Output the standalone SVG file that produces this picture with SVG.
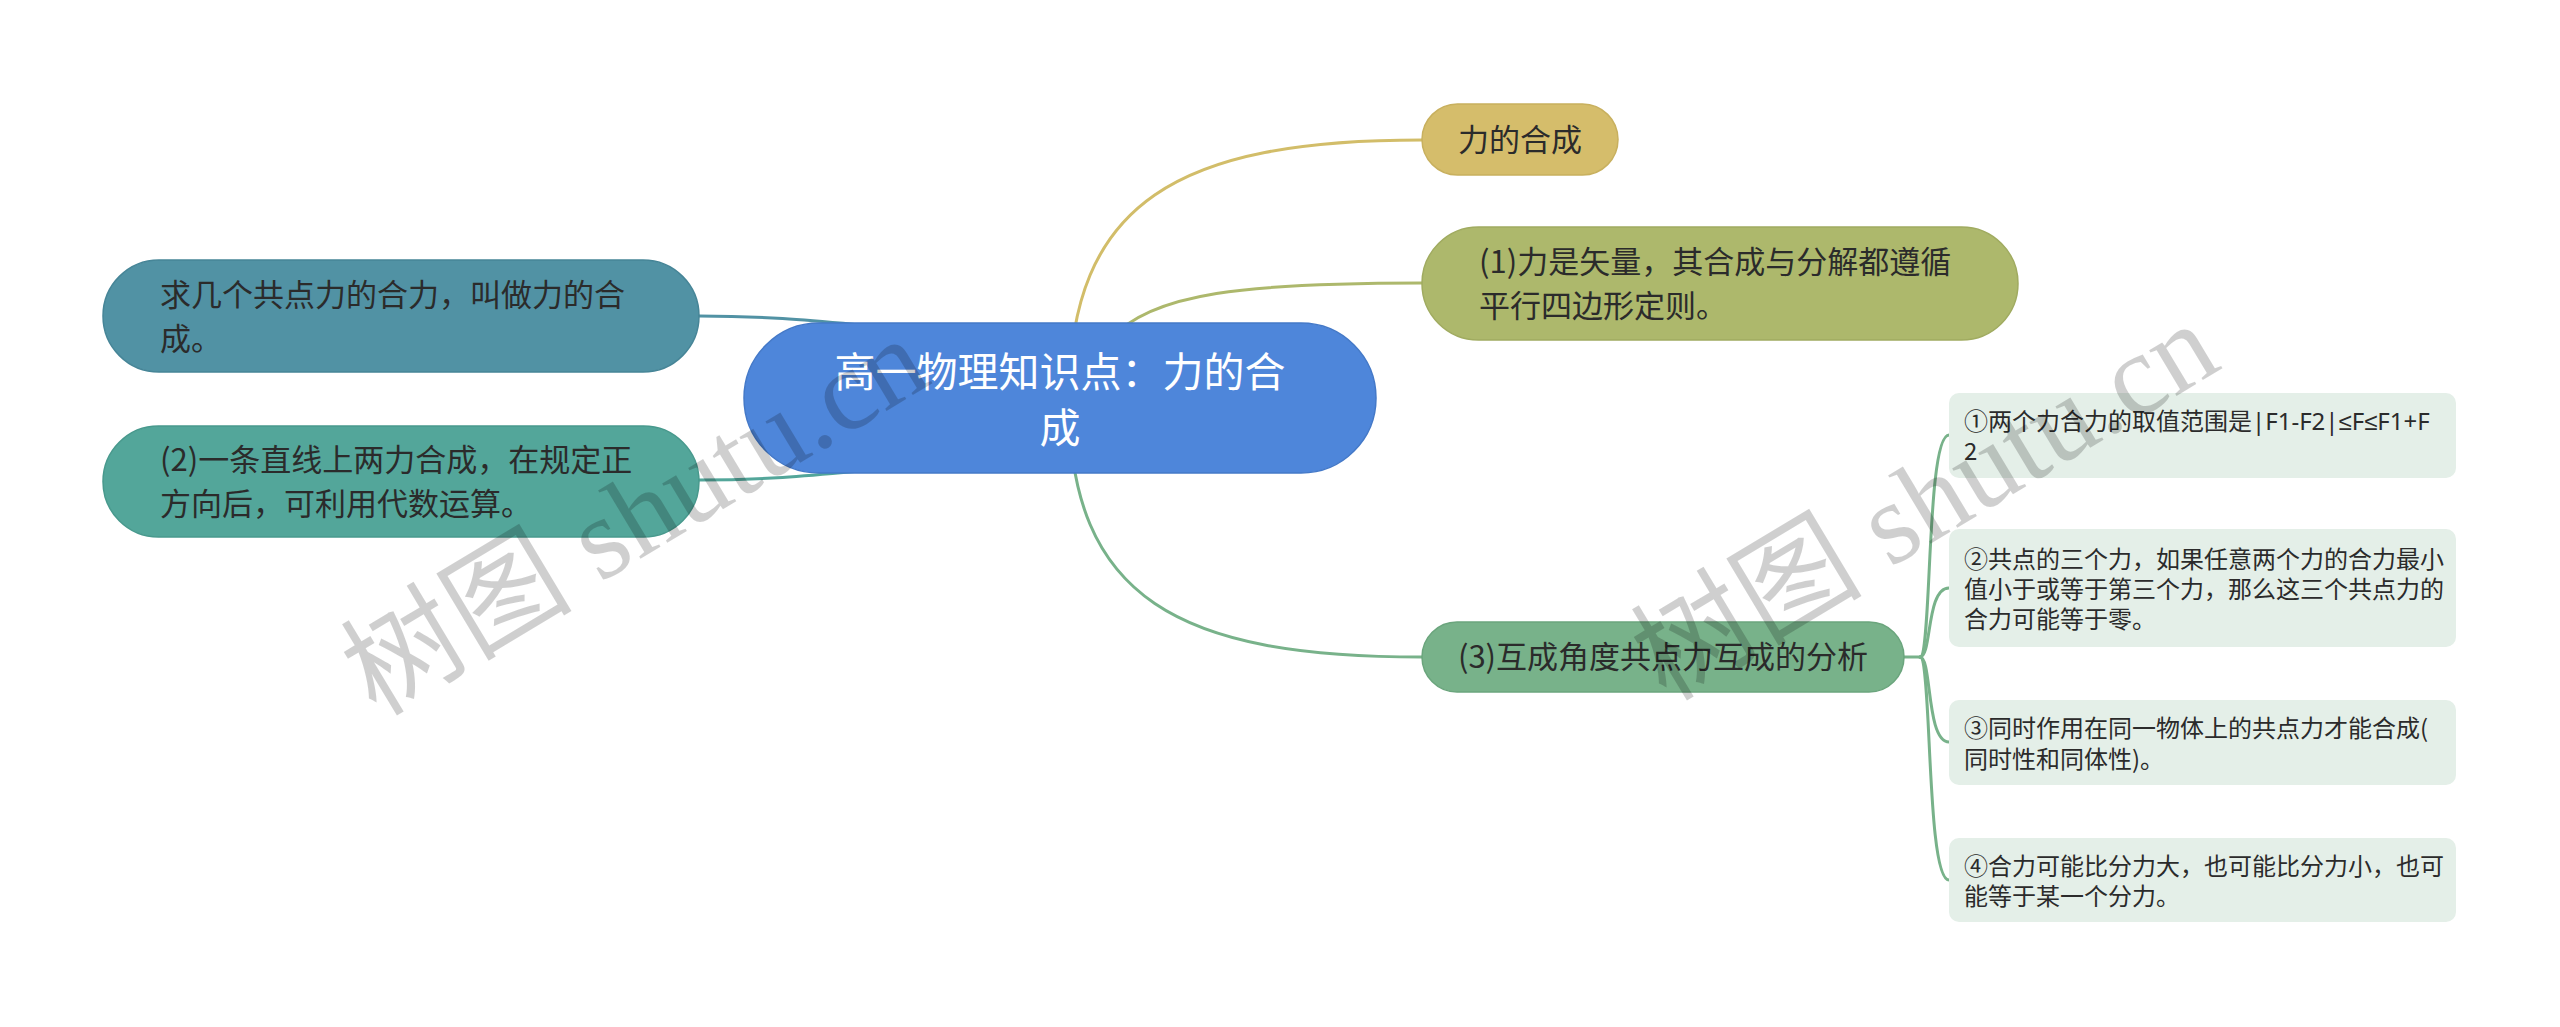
<svg xmlns="http://www.w3.org/2000/svg" width="2560" height="1027" viewBox="0 0 2560 1027">
<style>
.t{font-family:"Noto Sans CJK SC","Noto Sans",sans-serif;fill:#2b2b2b}
.c{fill:none;stroke-width:3;stroke-linecap:round}
.child{fill:#e4efe8}
.wm{font-family:"Liberation Serif","Noto Sans CJK SC",serif;font-size:116px;fill:#000;fill-opacity:0.19}
</style>
<rect width="2560" height="1027" fill="#ffffff"/>
<g id="connectors">
<path class="c" stroke="#d2bd69" d="M1069,400 C1069,200 1180,140 1422,140"/>
<path class="c" stroke="#adb86c" d="M1110,340 C1150,292 1250,283 1422,283"/>
<path class="c" stroke="#78b28a" d="M1069,400 C1069,600 1180,657 1422,657"/>
<path class="c" stroke="#5192a4" d="M699,316 C800,316 850,326 950,332"/>
<path class="c" stroke="#53a69a" d="M699,480 C800,480 850,470 950,464"/>
<path class="c" stroke="#78b28a" d="M1904,657 H1920"/>
<path class="c" stroke="#78b28a" d="M1920,657 C1932,657 1926,435 1949,435"/>
<path class="c" stroke="#78b28a" d="M1920,657 C1932,657 1926,588 1949,588"/>
<path class="c" stroke="#78b28a" d="M1920,657 C1932,657 1926,742 1949,742"/>
<path class="c" stroke="#78b28a" d="M1920,657 C1932,657 1926,880 1949,880"/>
</g>
<g id="root">
<rect x="744" y="323" width="632" height="150" rx="75" fill="#4e86da" stroke="#4479c8" stroke-width="1.5"/>
<text class="t" font-size="41" text-anchor="middle" style="fill:#ffffff"><tspan x="1060" y="387">高一物理知识点：力的合</tspan><tspan x="1060" y="443">成</tspan></text>
</g>
<g id="n-heli">
<rect x="1422" y="104" width="196" height="71" rx="35.5" fill="#d5bd6b" stroke="#c8b05e" stroke-width="1.5"/>
<text class="t" font-size="31" text-anchor="middle" x="1520" y="151">力的合成</text>
</g>
<g id="n-1">
<rect x="1422" y="227" width="596" height="113" rx="56.5" fill="#adb86c" stroke="#a0ab60" stroke-width="1.5"/>
<text class="t" font-size="31"><tspan x="1479" y="273">(1)力是矢量，其合成与分解都遵循</tspan><tspan x="1479" y="317">平行四边形定则。</tspan></text>
</g>
<g id="n-3">
<rect x="1422" y="622" width="482" height="70" rx="35" fill="#78b28a" stroke="#6ba57d" stroke-width="1.5"/>
<text class="t" font-size="31" text-anchor="middle" x="1663" y="668">(3)互成角度共点力互成的分析</text>
</g>
<g id="n-left1">
<rect x="103" y="260" width="596" height="112" rx="56" fill="#5192a4" stroke="#468597" stroke-width="1.5"/>
<text class="t" font-size="31"><tspan x="160" y="306">求几个共点力的合力，叫做力的合</tspan><tspan x="160" y="350">成。</tspan></text>
</g>
<g id="n-left2">
<rect x="103" y="426" width="596" height="111" rx="55.5" fill="#53a69a" stroke="#48998d" stroke-width="1.5"/>
<text class="t" font-size="31"><tspan x="160" y="471">(2)一条直线上两力合成，在规定正</tspan><tspan x="160" y="515">方向后，可利用代数运算。</tspan></text>
</g>
<g id="c1">
<rect class="child" x="1949" y="393" width="507" height="85" rx="10"/>
<text class="t" font-size="24"><tspan x="1964" y="430">①两个力合力的取值范围是<tspan font-family="'Noto Sans',sans-serif">|F1-F2|≤F≤F1+F</tspan></tspan><tspan x="1964" y="460">2</tspan></text>
</g>
<g id="c2">
<rect class="child" x="1949" y="529" width="507" height="118" rx="10"/>
<text class="t" font-size="24"><tspan x="1964" y="568">②共点的三个力，如果任意两个力的合力最小</tspan><tspan x="1964" y="598">值小于或等于第三个力，那么这三个共点力的</tspan><tspan x="1964" y="628">合力可能等于零。</tspan></text>
</g>
<g id="c3">
<rect class="child" x="1949" y="700" width="507" height="85" rx="10"/>
<text class="t" font-size="24"><tspan x="1964" y="737">③同时作用在同一物体上的共点力才能合成(</tspan><tspan x="1964" y="768">同时性和同体性)。</tspan></text>
</g>
<g id="c4">
<rect class="child" x="1949" y="838" width="507" height="84" rx="10"/>
<text class="t" font-size="24"><tspan x="1964" y="875">④合力可能比分力大，也可能比分力小，也可</tspan><tspan x="1964" y="905">能等于某一个分力。</tspan></text>
</g>
<g id="watermarks">
<text class="wm" text-anchor="middle" transform="translate(655,550) rotate(-31)">树图 shutu.cn</text>
<text class="wm" text-anchor="middle" transform="translate(1945,535) rotate(-31)">树图 shutu.cn</text>
</g>
</svg>
